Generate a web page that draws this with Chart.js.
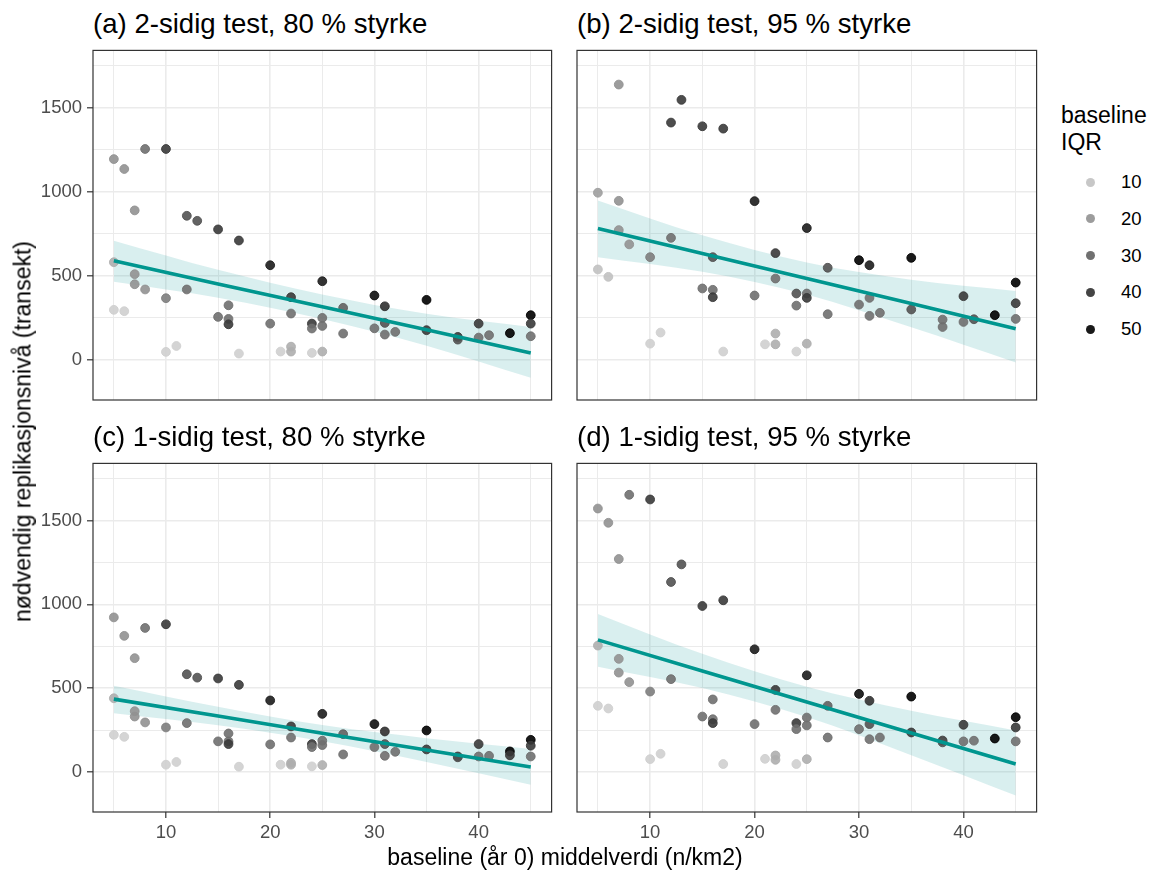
<!DOCTYPE html>
<html>
<head>
<meta charset="utf-8">
<script src="https://cdn.jsdelivr.net/npm/chart.js@4.4.1/dist/chart.umd.min.js"></script>
<style>
  body { margin: 0; background: #fff; }
  #fig { position: relative; width: 1167px; height: 873px; background: #fff; overflow: hidden;
         font-family: "Liberation Sans", Arial, Helvetica, sans-serif; color: #000; }
  #fig canvas { position: absolute; }
  .ptitle { position: absolute; font-size: 27.6px; line-height: 27.6px; white-space: nowrap; }
  .axtitle { position: absolute; font-size: 23px; line-height: 23px; white-space: nowrap; text-align: center; }
  .legtitle { position: absolute; left: 1061px; top: 102px; font-size: 23px; line-height: 27px; }
  .legkey { position: absolute; width: 9px; height: 9px; border-radius: 50%; }
  .leglab { position: absolute; left: 1121px; font-size: 18.5px; line-height: 20px; color: #000; }
</style>
</head>
<body>
<div id="fig"></div>
<script>
// ---- data lest av figuren ----
const xTicks = [5, 10, 15, 20, 25, 30, 35, 40, 45];
const yTicks = [0, 250, 500, 750, 1000, 1250, 1500, 1750];
const legendIQR = [10, 20, 30, 40, 50];
const titles = [
  '(a) 2-sidig test, 80 % styrke',
  '(b) 2-sidig test, 95 % styrke',
  '(c) 1-sidig test, 80 % styrke',
  '(d) 1-sidig test, 95 % styrke'
];

// (a)
const baseline_a = [5,5,5,6,6,7,7,7,8,8,10,10,10,11,12,12,13,15,15,16,16,16,17,17,20,20,21,22,22,22,22,24,24,24,25,25,25,25,27,27,30,30,31,31,31,32,35,35,38,38,40,40,41,43,45,45,45];
const need_a = [1194,581,298,1135,290,889,510,450,1254,419,1254,367,48,83,857,419,827,776,256,325,244,212,710,38,563,216,50,373,276,79,50,216,187,42,468,250,202,50,310,157,383,188,319,220,151,167,357,177,137,121,216,133,147,159,266,216,141];
const iqr_a = [20,14,7,20,7,20,20,20,27,20,38,24,7,7,33,27,33,38,27,27,27,38,38,7,44,27,7,38,27,14,14,38,27,7,44,27,27,14,30,27,47,27,40,33,27,27,50,38,38,33,38,27,27,50,50,38,27];

// (b)
const baseline_b = [5,5,6,7,7,7,8,10,10,11,12,12,13,15,15,16,16,16,17,17,20,20,21,22,22,22,22,24,24,24,25,25,25,25,27,27,30,30,31,31,31,32,35,35,38,38,40,40,41,43,45,45,45];
const need_b = [994,538,494,1637,946,772,687,611,97,163,1411,726,1546,1389,425,611,417,373,1375,50,944,383,93,635,484,157,93,395,323,50,784,395,369,97,548,272,593,329,563,369,262,280,607,300,240,196,379,226,242,266,460,337,244];
const iqr_b = [17,10,10,20,20,20,20,24,7,7,38,27,38,38,27,33,27,38,38,7,44,27,7,38,27,14,14,33,27,7,44,27,38,14,33,27,50,27,44,27,27,27,50,33,27,27,38,27,33,50,50,38,27];

// (c)
const baseline_c = [5,5,5,6,6,7,7,7,8,8,10,10,10,11,12,12,13,15,15,16,16,16,17,17,20,20,21,22,22,22,22,24,24,24,25,25,25,25,27,27,30,30,31,31,31,32,35,35,38,38,40,40,41,43,43,45,45,45];
const need_c = [922,440,222,812,210,679,363,331,859,296,881,266,44,60,583,292,563,558,183,230,183,167,520,32,427,165,44,272,206,55,44,167,149,34,347,187,161,42,226,105,286,149,242,167,97,121,248,135,93,88,167,93,97,123,100,192,157,93];
const iqr_c = [20,14,7,20,7,20,20,20,27,20,38,24,7,7,33,27,33,38,27,27,27,38,38,7,44,27,7,38,27,14,14,38,27,7,44,27,27,14,30,27,47,27,40,33,27,27,50,38,38,33,38,27,27,50,38,50,38,27];

// (d)
const baseline_d = [5,5,5,6,6,7,7,7,8,8,10,10,10,11,12,12,13,15,15,16,16,16,17,17,20,20,21,22,22,22,22,24,24,24,25,25,25,25,27,27,30,30,31,31,31,32,35,35,38,38,40,40,41,43,45,45,45];
const need_d = [1571,754,395,1486,379,1270,675,593,1653,536,1625,480,77,109,1133,554,1238,990,331,433,315,292,1024,48,732,286,79,490,371,99,73,292,256,48,577,325,278,77,395,206,466,256,425,286,196,206,450,236,188,177,282,183,187,200,327,266,183];
const iqr_d = [20,14,7,20,7,20,20,20,27,20,38,24,7,7,33,27,33,38,27,27,27,38,38,7,44,27,7,38,27,14,14,38,27,7,44,27,27,14,30,27,47,27,40,33,27,27,50,38,38,33,38,27,27,50,50,38,27];

// regresjonslinje (lm) og 95 % band, lest av figuren ved disse x-verdiene
const smoothX = [5, 15, 25, 35, 45];
const fit_a = [589, 452, 316, 179, 42];
const upper_a = [709, 536, 389, 274, 196];
const lower_a = [465, 370, 244, 85, -106];
const fit_b = [782, 633, 484, 335, 185];
const upper_b = [948, 741, 579, 477, 410];
const lower_b = [611, 524, 389, 194, -15];
const fit_c = [435, 334, 232, 131, 30];
const upper_c = [515, 389, 280, 202, 138];
const lower_c = [350, 279, 184, 60, -75];
const fit_d = [788, 603, 418, 233, 48];
const upper_d = [943, 705, 508, 365, 248];
const lower_d = [628, 501, 328, 101, -140];

// ---- oppsett ----
const FONT = '"Liberation Sans", Arial, Helvetica, sans-serif';
const fig = document.getElementById('fig');

const panels = [
  { title: titles[0], x: baseline_a, y: need_a, iqr: iqr_a, fit: fit_a, up: upper_a, lo: lower_a, left: 93,  top: 50,  w: 459, h: 350, showX: false, showY: true },
  { title: titles[1], x: baseline_b, y: need_b, iqr: iqr_b, fit: fit_b, up: upper_b, lo: lower_b, left: 577, top: 50,  w: 460, h: 350, showX: false, showY: false },
  { title: titles[2], x: baseline_c, y: need_c, iqr: iqr_c, fit: fit_c, up: upper_c, lo: lower_c, left: 93,  top: 463, w: 459, h: 349, showX: true,  showY: true },
  { title: titles[3], x: baseline_d, y: need_d, iqr: iqr_d, fit: fit_d, up: upper_d, lo: lower_d, left: 577, top: 463, w: 460, h: 349, showX: true,  showY: false }
];

// gråskala for IQR (lys -> svart)
function grey(v, a) {
  let c = Math.round(193 * (50 - v) / 40);
  c = Math.max(0, Math.min(255, c));
  return `rgba(${c},${c},${c},${a})`;
}

const xy = (xs, ys) => xs.map((x, i) => ({ x, y: ys[i] }));

// ramme rundt panelet
const framePlugin = {
  id: 'frame',
  afterDraw(chart) {
    const { ctx, chartArea: ar } = chart;
    ctx.save();
    ctx.strokeStyle = '#333333';
    ctx.lineWidth = 1.2;
    ctx.strokeRect(ar.left, ar.top, ar.right - ar.left, ar.bottom - ar.top);
    ctx.restore();
  }
};

panels.forEach(p => {
  const t = document.createElement('div');
  t.className = 'ptitle';
  t.style.left = p.left + 'px';
  t.style.top = (p.top - 40) + 'px';
  t.textContent = p.title;
  fig.appendChild(t);

  const cv = document.createElement('canvas');
  cv.width = p.w + 85;
  cv.height = p.h + 45;
  cv.style.left = (p.left - 80) + 'px';
  cv.style.top = (p.top - 5) + 'px';
  fig.appendChild(cv);

  const cols = p.iqr.map(v => grey(v, 0.9));

  new Chart(cv.getContext('2d'), {
    type: 'scatter',
    data: {
      datasets: [
        { type: 'line', data: xy(smoothX, p.fit), borderColor: '#00968f', borderWidth: 3.6, pointRadius: 0, fill: false, order: 0 },
        { data: xy(p.x, p.y), pointRadius: 4.4, pointBackgroundColor: cols, pointBorderColor: cols, pointBorderWidth: 1, order: 1 },
        { type: 'line', data: xy(smoothX, p.up), borderColor: 'rgba(0,0,0,0)', pointRadius: 0, cubicInterpolationMode: 'monotone',
          fill: '+1', backgroundColor: 'rgba(0,150,150,0.15)', order: 2 },
        { type: 'line', data: xy(smoothX, p.lo), borderColor: 'rgba(0,0,0,0)', pointRadius: 0, cubicInterpolationMode: 'monotone',
          fill: false, order: 3 }
      ]
    },
    options: {
      responsive: false,
      animation: false,
      devicePixelRatio: 1,
      layout: { padding: { left: 0, right: 5, top: 5, bottom: 0 } },
      plugins: { legend: { display: false }, tooltip: { enabled: false } },
      scales: {
        x: {
          type: 'linear', min: 3, max: 47,
          afterBuildTicks: s => { s.ticks = xTicks.map(v => ({ value: v })); },
          afterFit: s => { s.height = 40; s.paddingLeft = 0; s.paddingRight = 0; },
          border: { display: false },
          grid: {
            color: '#ebebeb',
            lineWidth: c => (c.tick && c.tick.value % 10 === 0 ? 1.6 : 1),
            drawTicks: p.showX, tickLength: 6, tickWidth: 1.2,
            tickColor: c => (c.tick && c.tick.value % 10 === 0 ? '#333333' : 'rgba(0,0,0,0)')
          },
          ticks: {
            display: p.showX, padding: 4, color: '#4d4d4d', autoSkip: false, maxRotation: 0,
            font: { size: 18.5, family: FONT },
            callback: v => (v % 10 === 0 ? v : '')
          }
        },
        y: {
          type: 'linear', min: -238, max: 1840,
          afterBuildTicks: s => { s.ticks = yTicks.map(v => ({ value: v })); },
          afterFit: s => { s.width = 80; s.paddingTop = 0; s.paddingBottom = 0; },
          border: { display: false },
          grid: {
            color: '#ebebeb',
            lineWidth: c => (c.tick && c.tick.value % 500 === 0 ? 1.6 : 1),
            drawTicks: p.showY, tickLength: 6, tickWidth: 1.2,
            tickColor: c => (c.tick && c.tick.value % 500 === 0 ? '#333333' : 'rgba(0,0,0,0)')
          },
          ticks: {
            display: p.showY, padding: 5, color: '#4d4d4d', autoSkip: false,
            font: { size: 18.5, family: FONT },
            callback: v => (v % 500 === 0 ? v : '')
          }
        }
      }
    },
    plugins: [framePlugin]
  });
});

// aksetitler
const xt = document.createElement('div');
xt.className = 'axtitle';
xt.style.left = '265px'; xt.style.width = '600px'; xt.style.top = '846px';
xt.textContent = 'baseline (år 0) middelverdi (n/km2)';
fig.appendChild(xt);

const yt = document.createElement('div');
yt.className = 'axtitle';
yt.style.width = '600px'; yt.style.left = (23 - 300) + 'px'; yt.style.top = (431 - 11.5) + 'px';
yt.style.transform = 'rotate(-90deg)';
yt.textContent = 'nødvendig replikasjonsnivå (transekt)';
fig.appendChild(yt);

// forklaring
const lt = document.createElement('div');
lt.className = 'legtitle';
lt.innerHTML = 'baseline<br>IQR';
fig.appendChild(lt);
legendIQR.forEach((v, i) => {
  const yc = 182 + i * 36.8;
  const k = document.createElement('div');
  k.className = 'legkey';
  k.style.left = (1090 - 4.5) + 'px';
  k.style.top = (yc - 4.5) + 'px';
  k.style.background = grey(v, 0.9);
  fig.appendChild(k);
  const l = document.createElement('div');
  l.className = 'leglab';
  l.style.top = (yc - 10) + 'px';
  l.textContent = v;
  fig.appendChild(l);
});
</script>
</body>
</html>
